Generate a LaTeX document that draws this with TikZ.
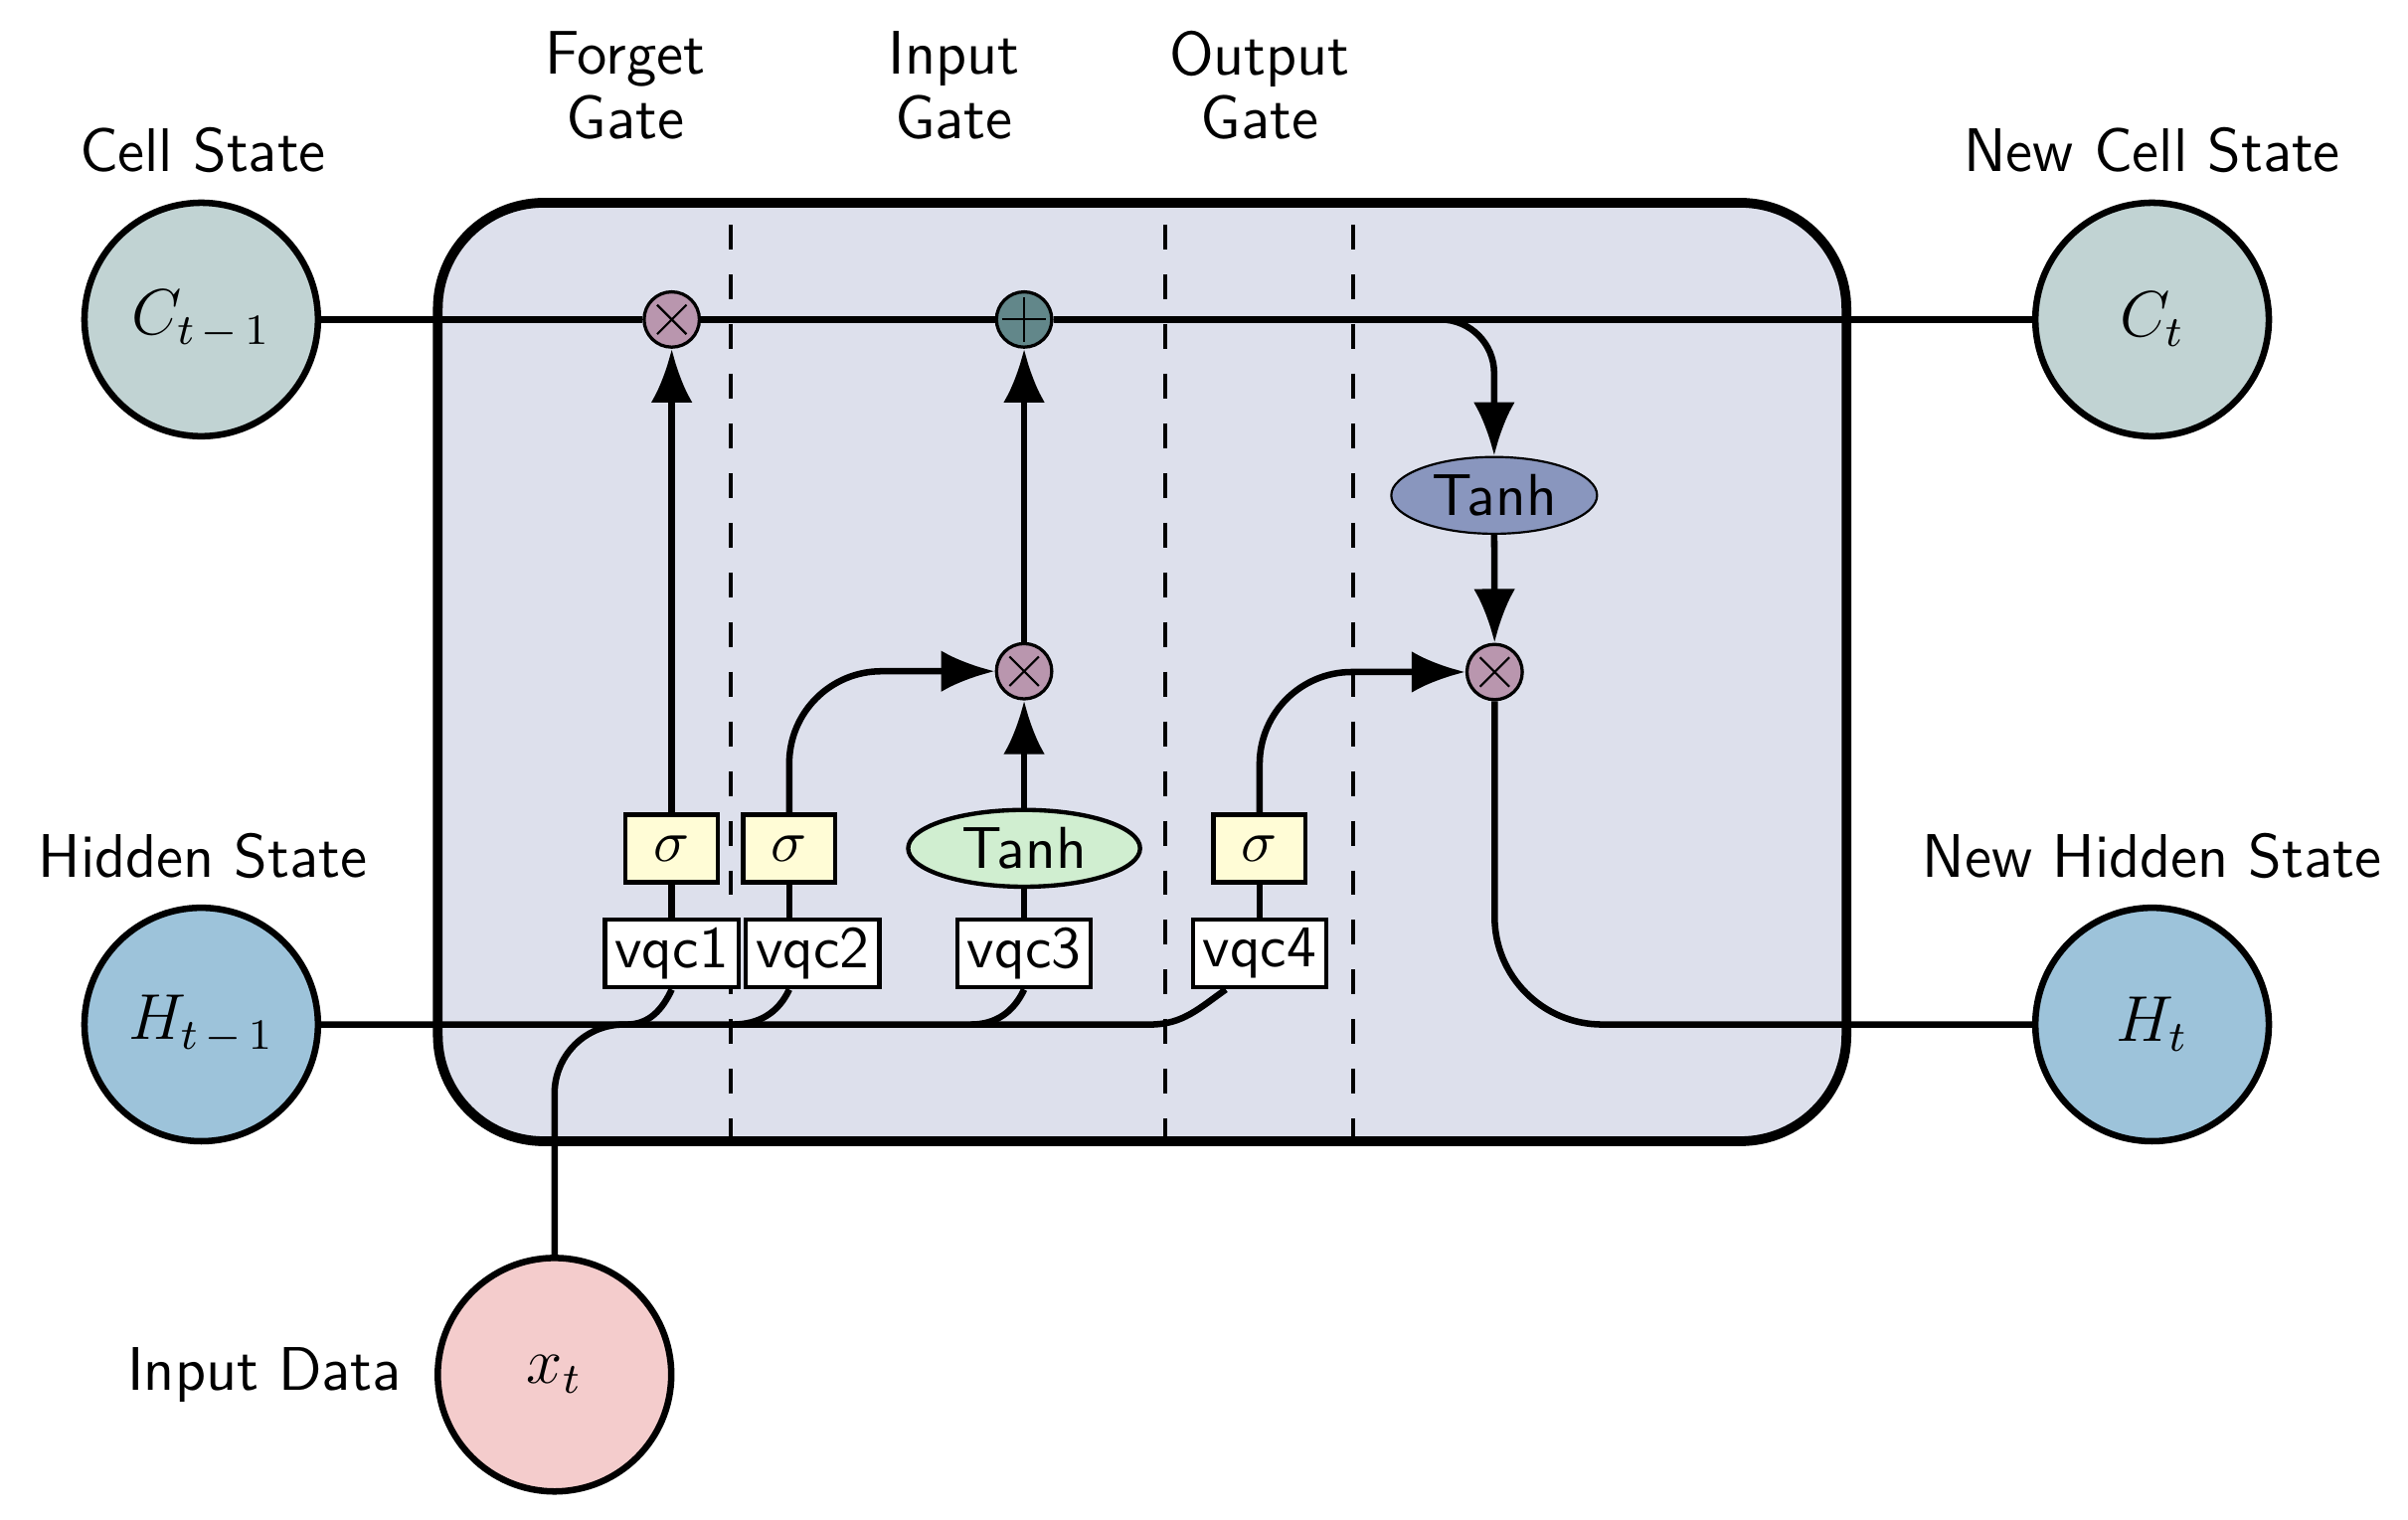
\documentclass[tikz,border=0pt,11pt]{standalone}
\usepackage{amsmath,amssymb}
\usepackage{tikz}
\usetikzlibrary{arrows.meta}
\usetikzlibrary{shapes.geometric}
\usetikzlibrary{positioning}

\definecolor{cellcol}{RGB}{193,211,211}
\definecolor{hidcol}{RGB}{157,195,218}
\definecolor{inpcol}{RGB}{244,204,204}
\definecolor{boxcol}{RGB}{221,224,236}
\definecolor{multcol}{RGB}{185,150,174}
\definecolor{pluscol}{RGB}{98,135,138}
\definecolor{tanhccol}{RGB}{137,150,190}
\definecolor{tanhicol}{RGB}{208,238,208}
\definecolor{sigcol}{RGB}{255,252,214}

\begin{document}
\begin{tikzpicture}[font=\fontsize{11.4}{13.7}\sffamily,
    state/.style={circle, draw, very thick, minimum size=1.52cm, inner sep=0pt, font=\large},
    mult/.style={circle, draw, semithick, fill=multcol, minimum size=3.6mm, inner sep=0pt,
      path picture={\draw[thin]
        ([shift={(45:1.35mm)}]path picture bounding box.center) -- ([shift={(225:1.35mm)}]path picture bounding box.center)
        ([shift={(135:1.35mm)}]path picture bounding box.center) -- ([shift={(-45:1.35mm)}]path picture bounding box.center);}},
    addop/.style={circle, draw, semithick, fill=pluscol, minimum size=3.6mm, inner sep=0pt,
      path picture={\draw[thin]
        ([yshift=1.45mm]path picture bounding box.center) -- ([yshift=-1.45mm]path picture bounding box.center)
        ([xshift=-1.45mm]path picture bounding box.center) -- ([xshift=1.45mm]path picture bounding box.center);}},
    sigbox/.style={draw, thick, fill=sigcol, minimum width=6mm, minimum height=4.4mm, inner sep=0pt},
    vqcbox/.style={draw, thick, fill=white, minimum width=8.7mm, minimum height=4.4mm, inner sep=0pt, font=\fontsize{10.95}{13}\sffamily},
    tanhbox/.style={ellipse, draw, minimum height=5mm, inner sep=0pt, font=\fontsize{10.95}{13}\sffamily},
    gatelabel/.style={align=center, font=\fontsize{11.4}{11.9}\sffamily},
    conn/.style={very thick},
    arrow/.style={very thick, -{Latex[length=3.5mm,width=2.7mm]}}]
      \useasboundingbox (0,0) rectangle (15.676,-9.89);

      % cell body and gate separators
      \draw[line width=1.8pt, fill=boxcol, rounded corners=6.9mm] (2.85,-1.32) rectangle (12.02,-7.43);
      \draw[line width=0.7pt, dash pattern=on 4.6pt off 4.6pt] (4.757,-1.463) -- (4.757,-7.43);
      \draw[line width=0.7pt, dash pattern=on 4.6pt off 4.6pt] (7.584,-1.463) -- (7.584,-7.43);
      \draw[line width=0.7pt, dash pattern=on 4.6pt off 4.6pt] (8.81,-1.463) -- (8.81,-7.43);

      % states
      \node[state, fill=cellcol] (Ctm1) at (1.31,-2.08) {$C_{t\,-\,1}$};
      \node[state, fill=hidcol] (Htm1) at (1.31,-6.67) {$H_{t\,-\,1}$};
      \node[state, fill=inpcol] (xt) at (3.61,-8.95) {$x_t$};
      \node[state, fill=cellcol] (Ct) at (14.01,-2.08) {$C_t$};
      \node[state, fill=hidcol] (Ht) at (14.01,-6.67) {$H_t$};

      \node (lCtm1) at (1.32,-0.98) {Cell State};
      \node (lHtm1) at (1.32,-5.57) {Hidden State};
      \node[left=0.8mm of xt] (lxt) {Input Data};
      \node (lCt) at (14.01,-0.98) {New Cell State};
      \node (lHt) at (14.01,-5.57) {New Hidden State};

      \node[gatelabel] (lforget) at (4.07,-0.555) {Forget\\Gate};
      \node[gatelabel] (linput) at (6.21,-0.555) {Input\\Gate};
      \node[gatelabel] (loutput) at (8.20,-0.555) {Output\\Gate};

      % operations
      \node[mult] (mulf) at (4.373,-2.08) {};
      \node[addop] (plus) at (6.667,-2.08) {};
      \node[mult] (muli) at (6.667,-4.37) {};
      \node[mult] (mulo) at (9.73,-4.375) {};
      \node[tanhbox, fill=tanhccol, minimum width=1.34cm] (tanhc) at (9.727,-3.225) {Tanh};

      \node[sigbox] (sig1) at (4.373,-5.523) {$\sigma$};
      \node[sigbox] (sig2) at (5.138,-5.523) {$\sigma$};
      \node[tanhbox, thick, fill=tanhicol, minimum width=1.51cm] (tanhi) at (6.667,-5.523) {Tanh};
      \node[sigbox] (sig4) at (8.20,-5.523) {$\sigma$};

      \node[vqcbox] (vqc1) at (4.373,-6.208) {vqc1};
      \node[vqcbox] (vqc2) at (5.29,-6.208) {vqc2};
      \node[vqcbox] (vqc3) at (6.667,-6.208) {vqc3};
      \node[vqcbox] (vqc4) at (8.20,-6.208) {vqc4};

      \coordinate (bus1) at (4.08,-6.67);
      \coordinate (bus2) at (4.77,-6.67);
      \coordinate (bus3) at (6.32,-6.67);
      \coordinate (bus4) at (7.49,-6.67);

      % cell state
      \draw[conn] (Ctm1) -- (mulf) -- (plus) -- (Ct);
      \draw[arrow, rounded corners=3.5mm] (plus.east) -| (tanhc.north);
      \draw[arrow] (tanhc) -- (mulo);
      \draw[conn, rounded corners=7mm] (mulo.south) |- (Ht.west);

      % hidden state and input
      \draw[conn] (Htm1) -- (bus4) to[out=0,in=-145] ([xshift=-2.2mm]vqc4.south);
      \draw[conn, rounded corners=4.5mm] (xt) |- (bus1);
      \draw[conn] (bus1) to[out=0,in=-115] (vqc1.south);
      \draw[conn] (bus2) to[out=0,in=-115] (vqc2.south -| sig2.south);
      \draw[conn] (bus3) to[out=0,in=-115] (vqc3.south);

      % gates
      \draw[conn] (vqc1) -- (sig1);
      \draw[arrow] (sig1) -- (mulf);
      \draw[conn] (sig2.south) -- (sig2.south |- vqc2.north);
      \draw[arrow, rounded corners=6mm] (sig2.north) |- (muli.west);
      \draw[conn] (vqc3) -- (tanhi);
      \draw[arrow] (tanhi) -- (muli);
      \draw[arrow] (muli) -- (plus);
      \draw[conn] (vqc4) -- (sig4);
      \draw[arrow, rounded corners=6mm] (sig4.north) |- (mulo.west);
    \end{tikzpicture}
\end{document}
